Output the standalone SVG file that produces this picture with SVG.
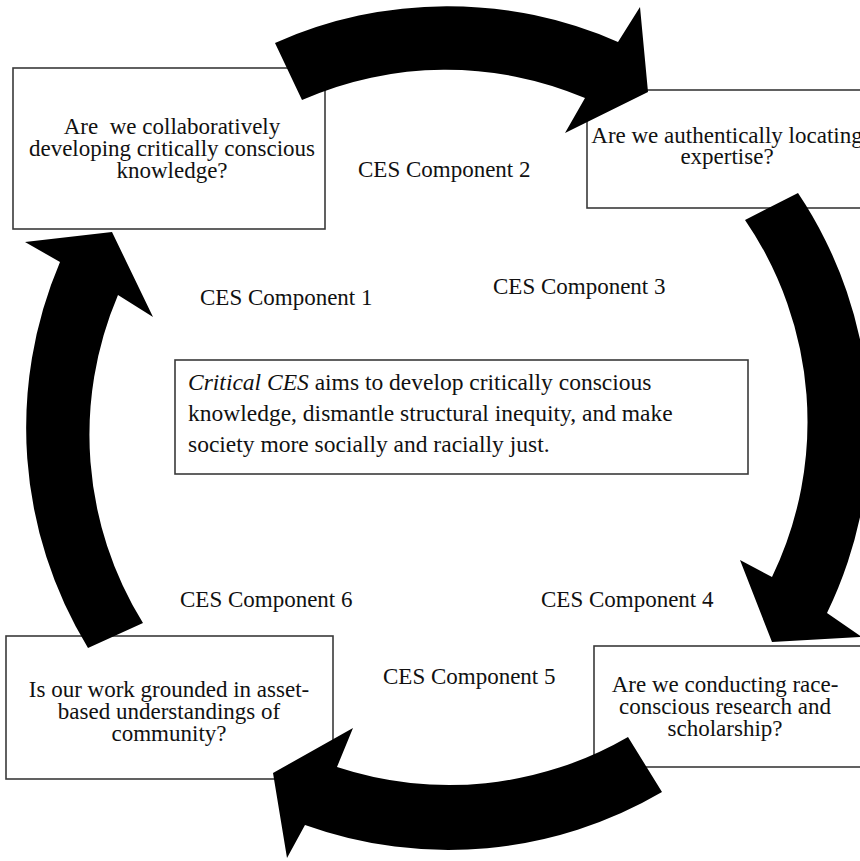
<svg xmlns="http://www.w3.org/2000/svg" width="860" height="861" viewBox="0 0 860 861">
<style>
  .box { fill: #ffffff; stroke: #3a3a3a; stroke-width: 1.6; }
  .t { font-family: "Liberation Serif", "Times New Roman", serif; font-size: 23px; fill: #111111; }
  .big { font-size: 23.5px; }
  .c { text-anchor: middle; }
  .arrow { fill: #000000; stroke: none; }
</style>
<rect width="860" height="861" fill="#ffffff"/>

<g id="node-q1">
  <rect class="box" x="13" y="68" width="312" height="161"/>
  <text class="t c" x="172" y="134" xml:space="preserve">Are  we collaboratively</text>
  <text class="t c" x="172" y="156">developing critically conscious</text>
  <text class="t c" x="172" y="178">knowledge?</text>
</g>
<g id="node-q2">
  <rect class="box" x="587" y="90" width="290" height="118"/>
  <text class="t c" x="727" y="143">Are we authentically locating</text>
  <text class="t c" x="727" y="164">expertise?</text>
</g>
<g id="node-center">
  <rect class="box" x="175" y="360" width="573" height="114"/>
  <text class="t big" x="188" y="390"><tspan font-style="italic">Critical CES</tspan> aims to develop critically conscious</text>
  <text class="t big" x="188" y="421">knowledge, dismantle structural inequity, and make</text>
  <text class="t big" x="188" y="452">society more socially and racially just.</text>
</g>
<g id="node-q5">
  <rect class="box" x="594" y="646" width="290" height="121"/>
  <text class="t c" x="725" y="692">Are we conducting race-</text>
  <text class="t c" x="725" y="714">conscious research and</text>
  <text class="t c" x="725" y="736">scholarship?</text>
</g>
<g id="node-q6">
  <rect class="box" x="6" y="636" width="327" height="143"/>
  <text class="t c" x="169" y="697">Is our work grounded in asset-</text>
  <text class="t c" x="169" y="719">based understandings of</text>
  <text class="t c" x="169" y="741">community?</text>
</g>

<g id="labels">
  <text class="t" x="358" y="177">CES Component 2</text>
  <text class="t" x="200" y="305">CES Component 1</text>
  <text class="t" x="493" y="294">CES Component 3</text>
  <text class="t" x="180" y="607">CES Component 6</text>
  <text class="t" x="541" y="607">CES Component 4</text>
  <text class="t" x="383" y="684">CES Component 5</text>
</g>

<g id="connectors">
  <path class="arrow" d="M 275 43 A 423 423 0 0 1 618 42 L 640 7 L 648 92 L 565 133 L 585 98 A 357 357 0 0 0 302 100 Z"/>
  <path class="arrow" d="M 798 193 A 423 423 0 0 1 827 613 L 862 637 L 772 642 L 740 560 L 772 577 A 357 357 0 0 0 745 220 Z"/>
  <path class="arrow" d="M 662 792 A 423 423 0 0 1 305 825 L 287 858 L 273 773 L 353 728 L 337 767 A 357 357 0 0 0 628 737 Z"/>
  <path class="arrow" d="M 88 648 A 423 423 0 0 1 60 262 L 25 242 L 112 232 L 153 317 L 118 295 A 357 357 0 0 0 143 623 Z"/>
</g>
</svg>
